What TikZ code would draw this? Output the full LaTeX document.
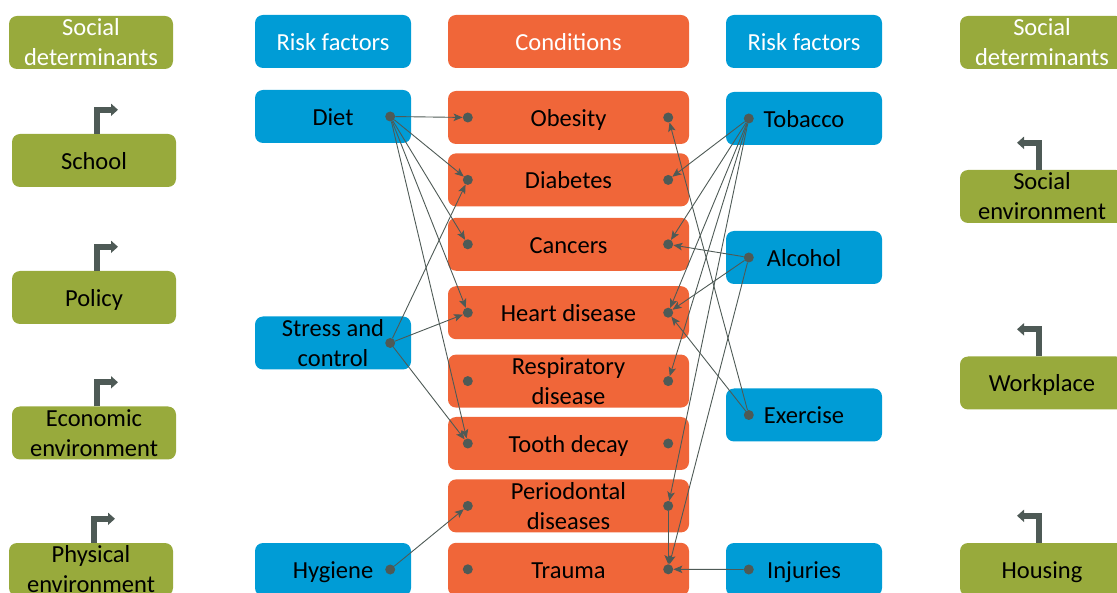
\documentclass[tikz,border=0pt]{standalone}
\usepackage{fontspec}
\setmainfont{Carlito}
\usetikzlibrary{arrows.meta,positioning}

\definecolor{sdgreen}{RGB}{152,170,60}
\definecolor{rfblue}{RGB}{0,156,214}
\definecolor{condorange}{RGB}{240,102,57}
\definecolor{linkgrey}{RGB}{78,90,86}

\tikzset{
  box/.style={rounded corners=8pt, minimum height=53pt, align=center, inner sep=0pt,
    font=\fontsize{24.5}{30}\selectfont},
  oneline/.style={text height=20pt, text depth=2pt},
  social/.style={box, fill=sdgreen, minimum width=164pt},
  risk/.style={box, fill=rfblue, minimum width=156pt},
  cond/.style={box, fill=condorange, minimum width=241pt},
  head/.style={text=white},
  dot/.style={circle, fill=linkgrey, inner sep=0pt, minimum size=10pt},
  link/.style={draw=linkgrey, line width=0.9pt, -{Stealth[length=9pt,width=7.5pt,inset=2pt]}},
  bentarrow/.style={draw=linkgrey, line width=6pt, line join=miter, -{Triangle[length=7pt,width=12pt]}}
}

\begin{document}
\begin{tikzpicture}[x=1pt, y=-1pt]

  \useasboundingbox (0,0) rectangle (1117,593);

  % Define nodes
  \node[social, head]          (sdL) at (91,42.5)    {Social\\determinants};
  \node[risk, head, oneline]   (rfL) at (333,41.5)   {Risk factors};
  \node[cond, head, oneline]   (cond) at (568.5,41.5) {Conditions};
  \node[risk, head, oneline]   (rfR) at (804,41.5)   {Risk factors};
  \node[social, head]          (sdR) at (1042,42.5)  {Social\\determinants};

  \node[social, oneline] (school) at (94,160.5)   {School};
  \node[social, oneline] (policy) at (94,297.5)   {Policy};
  \node[social]          (econ) at (94,433)       {Economic\\environment};
  \node[social]          (phys) at (91,569.5)     {Physical\\environment};

  \node[social]          (socenv) at (1042,196.5) {Social\\environment};
  \node[social, oneline] (work) at (1042,383)     {Workplace};
  \node[social, oneline] (housing) at (1042,569.5) {Housing};

  \node[risk, oneline] (diet) at (333,116.5)     {Diet};
  \node[risk]          (stress) at (333,343)     {Stress and\\control};
  \node[risk, oneline] (hygiene) at (333,569.5)  {Hygiene};
  \node[risk, oneline] (tobacco) at (804,118.5)  {Tobacco};
  \node[risk, oneline] (alcohol) at (804,257.5)  {Alcohol};
  \node[risk, oneline] (exercise) at (804,415)   {Exercise};
  \node[risk, oneline] (injuries) at (804,569.5) {Injuries};

  \node[cond, oneline]                      (obesity) at (568.5,117.5) {Obesity};
  \node[cond, oneline, below=9pt of obesity] (diabetes) {Diabetes};
  \node[cond, oneline, below=11pt of diabetes] (cancers) {Cancers};
  \node[cond, oneline, below=15pt of cancers] (heart) {Heart disease};
  \node[cond, below=15pt of heart]          (resp) {Respiratory\\disease};
  \node[cond, oneline, below=9pt of resp]   (tooth) {Tooth decay};
  \node[cond, below=9pt of tooth]           (perio) {Periodontal\\diseases};
  \node[cond, oneline, below=10pt of perio] (trauma) {Trauma};

  % Dots
  \foreach \c in {obesity,diabetes,cancers,heart,resp,tooth,perio,trauma} {
    \node[dot] (\c-l) at ([xshift=20pt]\c.west) {};
    \node[dot] (\c-r) at ([xshift=-21pt]\c.east) {};
  }
  \foreach \r in {diet,stress,hygiene}
    \node[dot] (\r-d) at ([xshift=-21pt]\r.east) {};
  \foreach \r in {tobacco,alcohol,exercise,injuries}
    \node[dot] (\r-d) at ([xshift=23pt]\r.west) {};

  % Connect the nodes
  \foreach \c in {obesity,diabetes,cancers,heart,tooth}
    \draw[link] (diet-d) -- (\c-l);
  \foreach \c in {diabetes,heart,tooth}
    \draw[link] (stress-d) -- (\c-l);
  \draw[link] (hygiene-d) -- (perio-l);
  \foreach \c in {diabetes,cancers,heart,resp,perio}
    \draw[link] (tobacco-d) -- (\c-r);
  \foreach \c in {cancers,heart,trauma}
    \draw[link] (alcohol-d) -- (\c-r);
  \foreach \c in {obesity,heart}
    \draw[link] (exercise-d) -- (\c-r);
  \draw[link] (injuries-d) -- (trauma-r);
  \draw[link] (perio-r) -- (trauma-r);

  % Bent arrows
  \foreach \s in {school,policy,econ,phys}
    \draw[bentarrow] ([xshift=3pt]\s.north) |- ++(21,-24);
  \foreach \s in {socenv,work,housing}
    \draw[bentarrow] ([xshift=-3pt]\s.north) |- ++(-22,-27);

\end{tikzpicture}
\end{document}
